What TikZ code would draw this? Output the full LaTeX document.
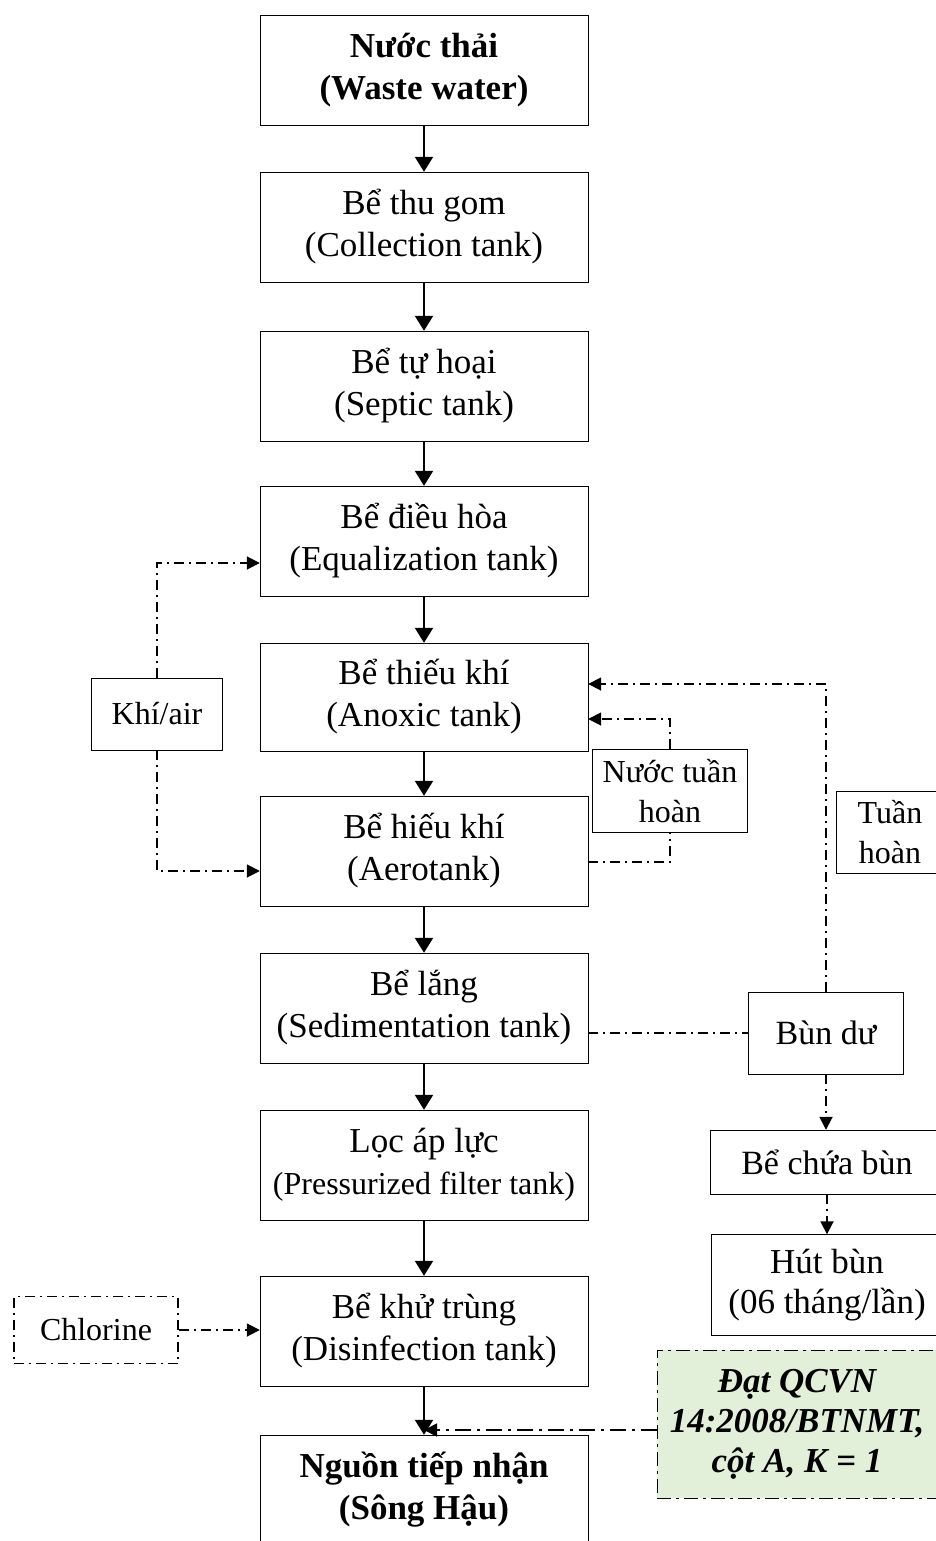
\documentclass[tikz,border=0pt]{standalone}
\usepackage{fontspec}
\setmainfont{Liberation Serif}
\usetikzlibrary{arrows.meta}
\tikzset{>={Triangle[length=15pt,width=18pt]}, line width=1.8pt}
\tikzset{
  tank/.style={draw,align=center,inner sep=0pt,minimum width=328pt,minimum height=110pt,font=\boxfont},
  side/.style={draw,align=center,inner sep=0pt,font=\sidefont},
  flow/.style={->,line width=2.2pt},
  link/.style={line width=1.8pt,dash pattern=on 10pt off 5pt on 2pt off 5pt},
  recyc/.style={link,-{Triangle[length=13pt,width=13pt]}},
}
\definecolor{qcgreen}{HTML}{E2EFD9}
\newcommand{\boxfont}{\fontsize{35}{42}\selectfont}
\newcommand{\sidefont}{\fontsize{32}{40}\selectfont}

\begin{document}
\begin{tikzpicture}[x=1pt,y=-1pt]
  \useasboundingbox (0,0) rectangle (936,1541);
  \def\xmain{424}

  % main line
  \node[tank,font=\boxfont\bfseries] (ww) at (\xmain,70) {Nước thải\\(Waste water)};
  \node[tank] (col) at (\xmain,227) {Bể thu gom\\(Collection tank)};
  \node[tank] (sep) at (\xmain,386) {Bể tự hoại\\(Septic tank)};
  \node[tank] (eq) at (\xmain,541) {Bể điều hòa\\(Equalization tank)};
  \node[tank,minimum height=108pt] (anox) at (\xmain,697) {Bể thiếu khí\\(Anoxic tank)};
  \node[tank] (aero) at (\xmain,851) {Bể hiếu khí\\(Aerotank)};
  \node[tank] (sed) at (\xmain,1008) {Bể lắng\\(Sedimentation tank)};
  \node[tank] (filt) at (\xmain,1165)
    {Lọc áp lực\\{\fontsize{32}{42}\selectfont(Pressurized filter tank)}};
  \node[tank] (dis) at (\xmain,1331) {Bể khử trùng\\(Disinfection tank)};
  \node[tank,font=\boxfont\bfseries] (recv) at (\xmain,1490) {Nguồn tiếp nhận\\(Sông Hậu)};

  \foreach \a/\b in {ww/col,col/sep,sep/eq,eq/anox,anox/aero,aero/sed,sed/filt,filt/dis,dis/recv}
    \draw[flow] (\a) -- (\b);

  % air
  \node[side,minimum width=131pt,minimum height=72pt] (air) at (157,714) {Khí/air};
  \draw[recyc] (air.north) |- ([yshift=-22pt]eq.west);
  \draw[recyc] (air.south) |- ([yshift=-20pt]aero.west);

  % chlorine
  \node[side,link,minimum width=164pt,minimum height=67pt] (cl) at (96,1330) {Chlorine};
  \draw[recyc] (cl.east) -- (cl.east -| dis.west);

  % recirculation
  \node[side,minimum width=155pt,minimum height=83pt] (nth) at (670,791) {Nước tuần\\hoàn};
  \draw[link] ([yshift=-11pt]aero.east) -| (nth.south);
  \draw[recyc] (nth.north) |- ([yshift=-22pt]anox.east);

  \node[side,minimum width=108pt,minimum height=82pt] (th) at (890,832) {Tuần\\hoàn};

  % sludge
  \node[side,font=\fontsize{34}{40}\selectfont,minimum width=155pt,minimum height=82pt]
    (bun) at (826,1033) {Bùn dư};
  \draw[link] (bun.west -| sed.east) -- (bun.west);
  \draw[recyc] (bun.north) |- ([yshift=13pt]anox.east);
  \node[side,font=\fontsize{34}{40}\selectfont,minimum width=234pt,minimum height=64pt]
    (bcb) at (827,1162) {Bể chứa bùn};
  \node[side,font=\fontsize{35}{40}\selectfont,minimum width=232pt,minimum height=101pt]
    (hut) at (827,1285) {Hút bùn\\(06 tháng/lần)};
  \draw[recyc] (bun.south) -- (bun.south |- bcb.north);
  \draw[recyc] (bcb.south) -- (bcb.south |- hut.north);

  % standard
  \node[side,fill=qcgreen,font=\fontsize{35}{40}\selectfont\bfseries\itshape,
        dash pattern=on 14pt off 5pt on 3pt off 5pt,
        minimum width=280pt,minimum height=148pt] (qc) at (797,1424)
    {Đạt QCVN\\14:2008/BTNMT,\\cột A, K = 1};
  \draw[recyc,dash pattern=on 16pt off 6pt on 3pt off 6pt]
    ([yshift=-6pt]qc.west) -- ([yshift=-6pt]qc.west -| recv.north);
\end{tikzpicture}
\end{document}
